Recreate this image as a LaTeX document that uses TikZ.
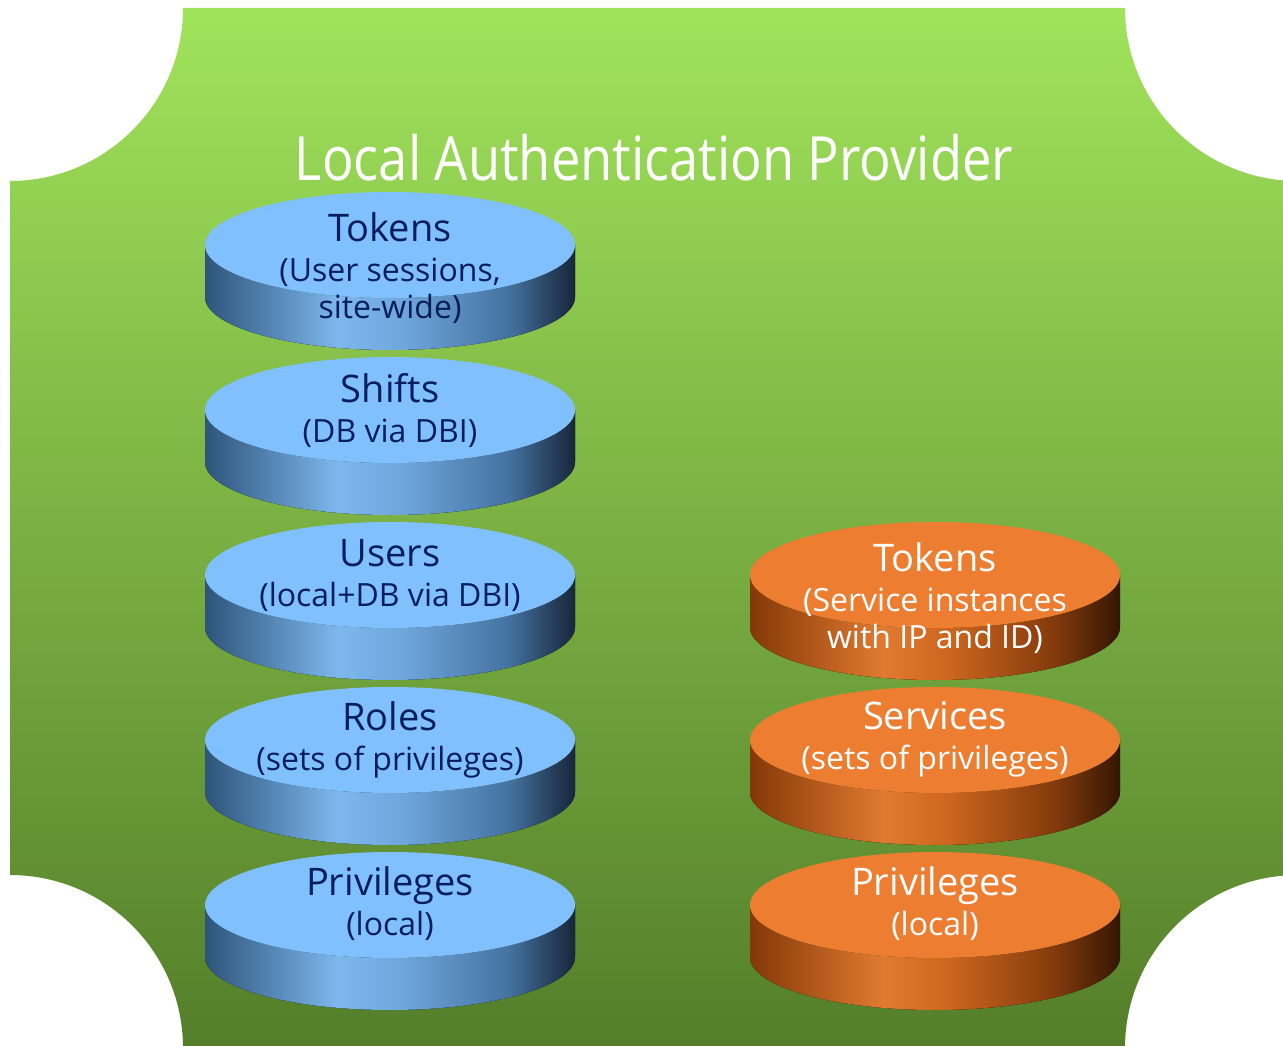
\documentclass[tikz,border=0pt]{standalone}
\usepackage{fontspec}
\setmainfont{Open Sans}
\newfontfamily\titlefont[FakeStretch=0.86]{Open Sans}

\definecolor{plaquetop}{RGB}{161,227,91}
\definecolor{plaquebot}{RGB}{84,126,42}
\definecolor{bluecap}{RGB}{128,192,255}
\definecolor{orangecap}{RGB}{237,125,49}
\definecolor{navytext}{RGB}{6,30,92}

% side walls of the disks: dark at the rim, bright left of centre, dark on the right
\pgfdeclarehorizontalshading{bluerim}{100bp}{%
  rgb(0bp)=(0.18,0.33,0.48); rgb(25bp)=(0.18,0.33,0.48);
  rgb(43bp)=(0.49,0.72,0.93); rgb(52bp)=(0.43,0.65,0.86);
  rgb(66bp)=(0.27,0.45,0.63); rgb(73bp)=(0.13,0.21,0.31);
  rgb(75bp)=(0.09,0.15,0.23); rgb(100bp)=(0.09,0.15,0.23)}
\pgfdeclarehorizontalshading{orangerim}{100bp}{%
  rgb(0bp)=(0.52,0.22,0.03); rgb(25bp)=(0.52,0.22,0.03);
  rgb(43bp)=(0.88,0.48,0.19); rgb(52bp)=(0.80,0.40,0.12);
  rgb(66bp)=(0.52,0.23,0.05); rgb(73bp)=(0.28,0.12,0.02);
  rgb(75bp)=(0.20,0.08,0.01); rgb(100bp)=(0.20,0.08,0.01)}

\newcommand{\headline}[1]{{\fontsize{38}{42}\selectfont #1}}

\tikzset{
  pics/disk/.style n args={2}{code={
    \fill[shading=#1]
      (-185,0) -- (-185,52)
      arc[start angle=180, end angle=0, x radius=185, y radius=53]
      -- (185,0)
      arc[start angle=0, end angle=180, x radius=185, y radius=53] -- cycle;
    \fill[#2] (0,0) ellipse[x radius=185, y radius=53];
  }},
  disklabel/.style={anchor=base, align=center,
    font=\fontsize{32}{37}\selectfont},
  bluelabel/.style={disklabel, text=navytext},
  orangelabel/.style={disklabel, text=white},
  title/.style={anchor=base, text=white, font=\titlefont\fontsize{61}{70}\selectfont}
}

\begin{document}
\begin{tikzpicture}[x=1pt, y=-1pt]
\useasboundingbox (0,0) rectangle (1283,1046);
\fill[white] (0,0) rectangle (1283,1046);

% plaque with concave corners
\shade[top color=plaquetop, bottom color=plaquebot]
  (183,8) -- (1125,8)
  arc[start angle=180, end angle=90, radius=173]
  -- (1298,875)
  arc[start angle=270, end angle=180, radius=173]
  -- (183,1048)
  arc[start angle=0, end angle=-90, radius=173]
  -- (10,181)
  arc[start angle=90, end angle=0, radius=173] -- cycle;

\node[title] (title) at (654,181) {Local Authentication Provider};

% left stack
\pic at (390,245) {disk={bluerim}{bluecap}};
\pic at (390,410) {disk={bluerim}{bluecap}};
\pic at (390,575) {disk={bluerim}{bluecap}};
\pic at (390,740) {disk={bluerim}{bluecap}};
\pic at (390,905) {disk={bluerim}{bluecap}};

% right stack
\pic at (935,575) {disk={orangerim}{orangecap}};
\pic at (935,740) {disk={orangerim}{orangecap}};
\pic at (935,905) {disk={orangerim}{orangecap}};

% labels are anchored at the baseline of their last line
\node[bluelabel] (ltokens) at (390,318) {\headline{Tokens}\\[3pt](User sessions,\\site-wide)};
\node[bluelabel] (shifts) at (390,442) {\headline{Shifts}\\[3pt](DB via DBI)};
\node[bluelabel] (users) at (390,606) {\headline{Users}\\[3pt](local+DB via DBI)};
\node[bluelabel] (roles) at (390,770) {\headline{Roles}\\[3pt](sets of privileges)};
\node[bluelabel] (lpriv) at (390,935) {\headline{Privileges}\\[3pt](local)};

\node[orangelabel] (rtokens) at (935,648) {\headline{Tokens}\\[3pt](Service instances\\with IP and ID)};
\node[orangelabel] (services) at (935,769) {\headline{Services}\\[3pt](sets of privileges)};
\node[orangelabel] (rpriv) at (935,935) {\headline{Privileges}\\[3pt](local)};
\end{tikzpicture}
\end{document}
